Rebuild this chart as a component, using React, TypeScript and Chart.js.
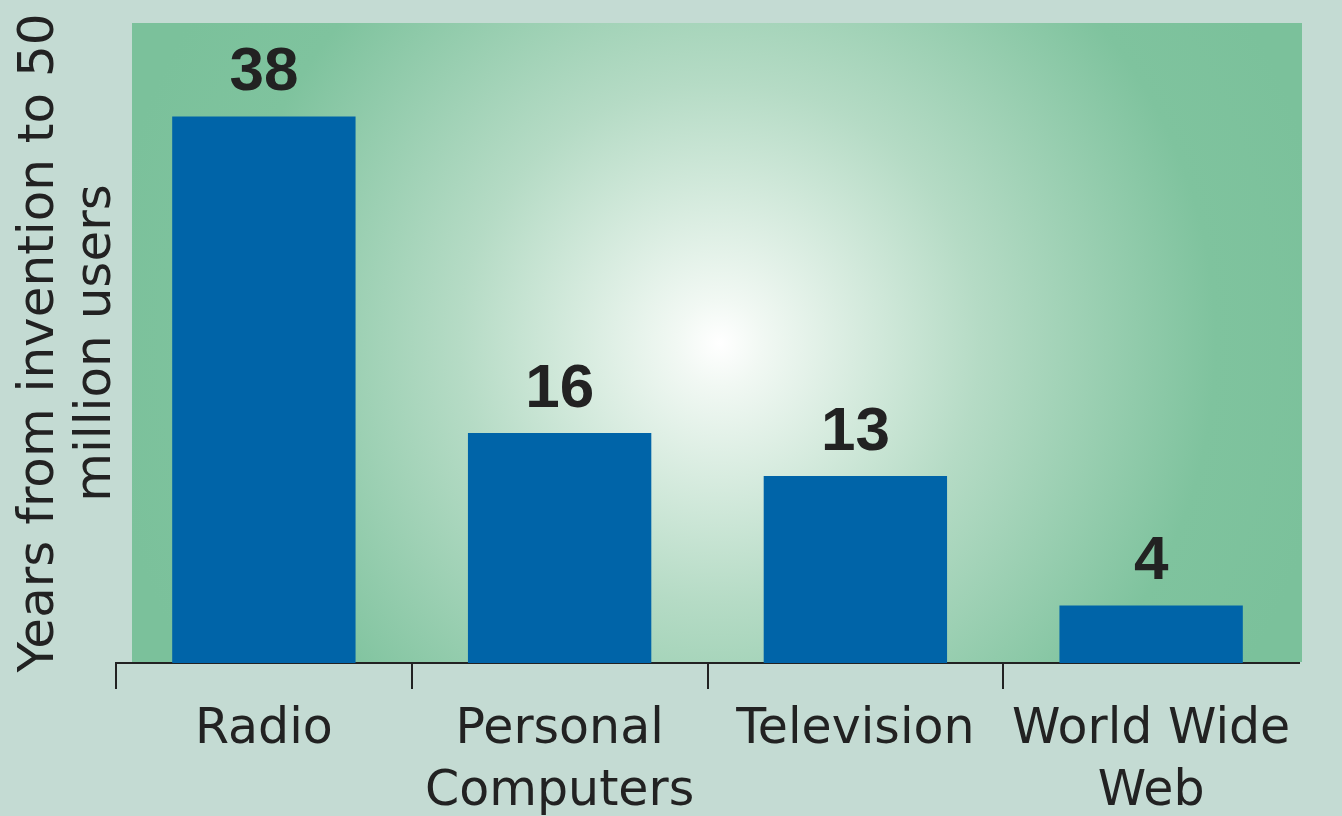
import React, { useEffect, useRef } from "react";
import { Chart, registerables } from "chart.js";

Chart.register(...registerables);

const categories: (string | string[])[] = [
  "Radio",
  ["Personal", "Computers"],
  "Television",
  ["World Wide", "Web"],
];
const yearsToFiftyMillion: number[] = [38, 16, 13, 4];
const yAxisTitle: string[] = ["Years from invention to 50", "million users"];

const PAGE_BG = "#c4dbd3";
const BAR_COLOR = "#0064a8";
const TEXT_COLOR = "#222";

const backgroundPlugin = {
  id: "bgGradient",
  beforeDraw(chart: any) {
    const { ctx, chartArea, width, height } = chart;
    ctx.save();
    ctx.fillStyle = PAGE_BG;
    ctx.fillRect(0, 0, width, height);
    const cx = chartArea.left + (chartArea.right - chartArea.left) * 0.51;
    const cy = chartArea.top + (chartArea.bottom - chartArea.top) * 0.5;
    const r = 620;
    const g = ctx.createRadialGradient(cx, cy, 0, cx, cy, r);
    g.addColorStop(0, "#ffffff");
    g.addColorStop(0.07, "#f1f8f3");
    g.addColorStop(0.42, "#b5dbc5");
    g.addColorStop(0.8, "#7fc39e");
    g.addColorStop(1, "#7bc19b");
    ctx.fillStyle = g;
    ctx.fillRect(
      chartArea.left + 16,
      chartArea.top,
      chartArea.right - chartArea.left - 13,
      chartArea.bottom - chartArea.top - 1
    );
    ctx.restore();
  },
};

const valueLabelPlugin = {
  id: "valueLabels",
  afterDatasetsDraw(chart: any) {
    const { ctx } = chart;
    const meta = chart.getDatasetMeta(0);
    ctx.save();
    ctx.fillStyle = TEXT_COLOR;
    ctx.font = "bold 62px 'Liberation Sans', Arial, sans-serif";
    ctx.textAlign = "center";
    ctx.textBaseline = "alphabetic";
    meta.data.forEach((bar: any, i: number) => {
      ctx.fillText(String(yearsToFiftyMillion[i]), bar.x, bar.y - 26);
    });
    ctx.restore();
  },
};

export default function App() {
  const canvasRef = useRef<HTMLCanvasElement | null>(null);

  useEffect(() => {
    document.body.style.margin = "0";
    document.body.style.background = PAGE_BG;
    const canvas = canvasRef.current;
    if (!canvas) return;
    const chart = new Chart(canvas, {
      type: "bar",
      data: {
        labels: categories,
        datasets: [
          {
            data: yearsToFiftyMillion,
            backgroundColor: BAR_COLOR,
            borderWidth: 0,
            barPercentage: 0.62,
            categoryPercentage: 1,
          },
        ],
      },
      options: {
        animation: false,
        responsive: false,
        maintainAspectRatio: false,
        layout: { padding: { top: 23, right: 43, left: 0, bottom: 0 } },
        plugins: {
          legend: { display: false },
          tooltip: { enabled: false },
          title: { display: false },
        },
        scales: {
          x: {
            offset: true,
            grid: {
              offset: true,
              drawOnChartArea: false,
              drawTicks: true,
              tickLength: 26,
              lineWidth: 2,
              color: (c: any) => (c.type === "tick" ? TEXT_COLOR : "rgba(0,0,0,0)"),
            },
            border: { display: true, color: TEXT_COLOR, width: 2 },
            ticks: {
              color: TEXT_COLOR,
              font: { family: "'DejaVu Sans', sans-serif", size: 49, lineHeight: 1.27 },
              padding: 10,
              maxRotation: 0,
              autoSkip: false,
            },
            afterFit: (scale: any) => {
              scale.height = 153;
            },
          },
          y: {
            min: 0,
            max: 44.5,
            grid: { display: false, drawTicks: false },
            border: { display: false },
            ticks: { display: false },
            title: {
              display: true,
              text: yAxisTitle,
              color: TEXT_COLOR,
              font: { family: "'DejaVu Sans', sans-serif", size: 50, lineHeight: 1.14 },
              padding: { top: 12, bottom: 0 },
            },
            afterFit: (scale: any) => {
              scale.width = 116;
            },
          },
        },
      },
      plugins: [backgroundPlugin, valueLabelPlugin],
    });
    return () => chart.destroy();
  }, []);

  return (
    <div style={{ width: 1342, height: 816, background: PAGE_BG }}>
      <canvas ref={canvasRef} width={1342} height={816} style={{ display: "block" }} />
    </div>
  );
}
